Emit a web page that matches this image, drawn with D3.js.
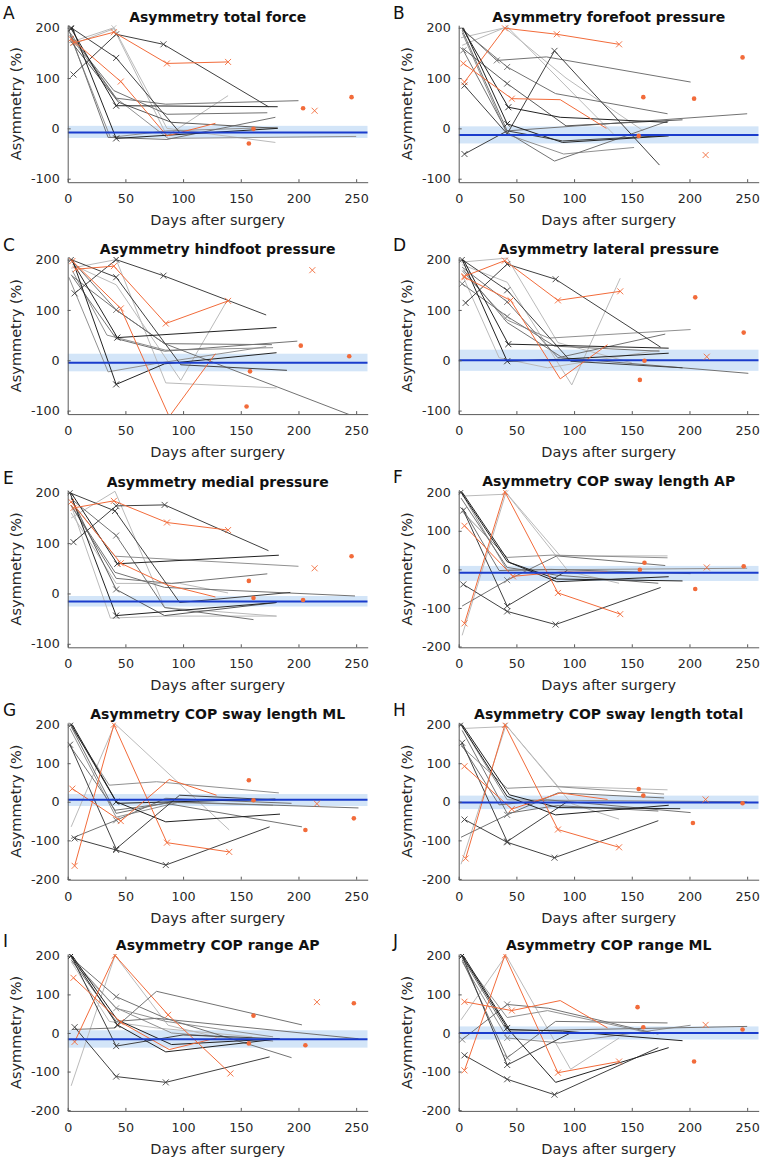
<!DOCTYPE html>
<html><head><meta charset="utf-8">
<script src="https://cdn.jsdelivr.net/npm/d3@7"></script>
<style>body{margin:0;background:#fff}svg{display:block}text{font-family:"DejaVu Sans",sans-serif}</style>
</head><body><svg id="c" width="762" height="1160"></svg>
<script>
// ---------- data ----------
const letters = ["A","B","C","D","E","F","G","H","I","J"];
const titles = ["Asymmetry total force","Asymmetry forefoot pressure","Asymmetry hindfoot pressure","Asymmetry lateral pressure","Asymmetry medial pressure","Asymmetry COP sway length AP","Asymmetry COP sway length ML","Asymmetry COP sway length total","Asymmetry COP range AP","Asymmetry COP range ML"];
const xTicks = [0,50,100,150,200,250];
const yTicksPressure = [-100,0,100,200];
const yTicksCOP = [-200,-100,0,100,200];
const meanVals = [-8,-13,-5,0,-16,-9,5,-2,-16,0];
const bandLow = [-19,-30,-22,-21,-26,-30,-11,-19,-38,-17];
const bandHigh = [5,4,13,21,-5,9,20,16,7,17];

const linesA = [
 {g:'k2',p:[[5,107],[42,187],[83,167],[174,43]],m:[0,1,2]},
 {g:'o',p:[[5,170],[40,191],[86,129],[139,132]],m:[0,1,2,3]},
 {g:'o',p:[[3,178],[46,93],[86,-15],[128,10]],m:[0,1]},
 {g:'k2',p:[[3,200],[42,140],[97,-8]],m:[0,1]},
 {g:'k1',p:[[3,198],[42,45],[182,43]],m:[0,1]},
 {g:'k1',p:[[4,200],[42,-20],[182,0]],m:[1]},
 {g:'g1',p:[[1,195],[35,-18],[86,-22],[180,22]],m:[]},
 {g:'g1',p:[[2,190],[42,60],[85,48],[200,55]],m:[]},
 {g:'g1',p:[[2,185],[40,75],[86,28],[173,31]],m:[]},
 {g:'g3',p:[[1,170],[40,200],[86,0],[180,-28]],m:[1]},
 {g:'g3',p:[[2,165],[40,198],[86,-15],[139,65]],m:[]},
 {g:'g2',p:[[3,180],[42,60],[87,-20],[250,-16]],m:[]},
 {g:'k3',p:[[2,175],[44,52],[90,12],[182,0]],m:[]},
 {g:'g2',p:[[2,185],[37,-18],[86,-5],[182,2]],m:[]}
];
const dotsA = [[157,-30,'d'],[161,-1,'d'],[204,40,'d'],[214,35,'x'],[246,62,'d']];

const linesB = [
 {g:'k2',p:[[5,85],[42,-11],[83,154],[174,-73]],m:[0,2]},
 {g:'o',p:[[5,92],[40,199],[85,187],[139,167]],m:[0,1,2,3]},
 {g:'o',p:[[4,129],[46,59],[88,57],[128,0]],m:[0,1]},
 {g:'k2',p:[[5,-51],[42,-5],[90,-25],[183,-14]],m:[0]},
 {g:'k1',p:[[3,200],[43,42],[88,22],[181,12]],m:[1]},
 {g:'g1',p:[[3,198],[33,135],[76,142],[201,92]],m:[1]},
 {g:'g1',p:[[3,196],[42,122],[84,69],[181,29]],m:[1]},
 {g:'k3',p:[[3,160],[42,89],[93,5],[194,17]],m:[1]},
 {g:'g3',p:[[3,165],[42,202],[134,-11]],m:[1]},
 {g:'k1',p:[[4,200],[42,9],[90,-28],[182,-15]],m:[1]},
 {g:'g1',p:[[4,155],[42,-8],[83,-65],[182,15]],m:[0]},
 {g:'g2',p:[[3,190],[42,-12],[91,-51],[152,-38]],m:[]},
 {g:'g1',p:[[3,195],[42,-5],[250,29]],m:[]},
 {g:'g3',p:[[2,180],[40,200],[93,100],[160,-5]],m:[]}
];
const dotsB = [[156,-15,'d'],[160,62,'d'],[204,59,'d'],[214,-53,'x'],[246,141,'d']];

const linesC = [
 {g:'k2',p:[[6,133],[42,200],[83,168],[172,90]],m:[0,1,2]},
 {g:'o',p:[[7,181],[40,187],[85,73],[139,118]],m:[0,1,2,3]},
 {g:'o',p:[[4,197],[46,103],[88,-112],[128,13]],m:[0,1]},
 {g:'k2',p:[[3,200],[42,165],[98,-9],[190,-20]],m:[0,1]},
 {g:'k1',p:[[4,200],[42,-48],[84,-7],[181,15]],m:[1]},
 {g:'k1',p:[[3,200],[43,45],[181,65]],m:[1]},
 {g:'g1',p:[[4,197],[42,100],[84,33],[177,31]],m:[1]},
 {g:'g1',p:[[3,170],[42,43],[84,18],[199,38]],m:[]},
 {g:'g3',p:[[3,183],[42,200],[85,-45],[181,-55]],m:[1]},
 {g:'g3',p:[[4,190],[42,150],[98,-40],[138,118]],m:[]},
 {g:'g2',p:[[1,165],[35,-23],[75,-7],[172,27]],m:[]},
 {g:'g1',p:[[4,167],[42,100],[84,33],[252,-115]],m:[]},
 {g:'g2',p:[[4,178],[34,50],[85,20],[178,25]],m:[]}
];
const dotsC = [[155,-92,'d'],[158,-22,'d'],[202,29,'d'],[212,179,'x'],[244,8,'d']];

const linesD = [
 {g:'k2',p:[[6,114],[42,191],[84,161],[175,26]],m:[0,1,2]},
 {g:'o',p:[[5,167],[40,198],[86,119],[140,137]],m:[0,1,2,3]},
 {g:'o',p:[[5,165],[45,119],[88,-37],[129,31]],m:[0,1]},
 {g:'k2',p:[[3,200],[42,139],[97,-2],[194,-15]],m:[0,1]},
 {g:'k1',p:[[3,200],[42,-2],[88,2],[182,14]],m:[1]},
 {g:'k1',p:[[4,200],[43,32],[182,24]],m:[1]},
 {g:'g1',p:[[3,152],[42,87],[83,28],[174,18]],m:[0,1]},
 {g:'g1',p:[[3,185],[42,116],[86,5],[179,52]],m:[1]},
 {g:'g3',p:[[3,190],[42,155],[98,-49],[140,163]],m:[]},
 {g:'g3',p:[[3,170],[35,5],[77,-15],[174,20]],m:[]},
 {g:'g2',p:[[3,178],[42,80],[78,44],[201,61]],m:[]},
 {g:'g1',p:[[4,180],[42,75],[90,5],[251,-26]],m:[]},
 {g:'g3',p:[[2,195],[42,203],[86,35],[150,-5]],m:[]}
];
const dotsD = [[157,-39,'d'],[161,-1,'d'],[205,125,'d'],[215,7,'x'],[247,55,'d']];

const linesE = [
 {g:'k2',p:[[5,102],[42,174],[84,176],[174,85]],m:[0,1,2]},
 {g:'o',p:[[5,170],[40,184],[86,141],[139,126]],m:[0,1,2,3]},
 {g:'o',p:[[3,182],[46,60],[86,17],[128,-7]],m:[0,1]},
 {g:'k2',p:[[2,200],[41,164],[97,-18],[193,2]],m:[0,1]},
 {g:'k1',p:[[2,200],[42,-44],[181,-18]],m:[1]},
 {g:'k1',p:[[3,200],[43,59],[183,76]],m:[1]},
 {g:'g1',p:[[3,188],[42,115],[84,-28],[161,-52]],m:[1]},
 {g:'g1',p:[[3,175],[41,42],[84,12],[249,-5]],m:[]},
 {g:'g1',p:[[3,175],[42,30],[90,20],[173,39]],m:[]},
 {g:'g3',p:[[3,150],[41,203],[84,-28],[181,-45]],m:[]},
 {g:'g3',p:[[3,175],[37,-49],[84,-45],[181,-45]],m:[]},
 {g:'g2',p:[[4,180],[41,74],[200,54]],m:[]},
 {g:'g3',p:[[3,160],[42,20],[97,20],[139,1]],m:[]},
 {g:'k3',p:[[3,190],[42,8],[84,-44],[181,-18]],m:[1]}
];
const dotsE = [[157,25,'d'],[161,-9,'d'],[204,-13,'d'],[214,50,'x'],[246,74,'d']];

const linesF = [
 {g:'k2',p:[[4,-39],[42,-109],[84,-143],[175,-47]],m:[0,1,2]},
 {g:'o',p:[[5,-140],[40,201],[86,-61],[140,-116]],m:[0,1,2,3]},
 {g:'o',p:[[5,113],[47,-18],[88,-7],[129,-7]],m:[0,1]},
 {g:'k2',p:[[4,153],[42,-95],[94,-3]],m:[0,1]},
 {g:'k1',p:[[2,200],[42,20],[85,-32],[182,-19]],m:[0]},
 {g:'k1',p:[[3,200],[44,18],[85,-25],[194,-30]],m:[]},
 {g:'g1',p:[[3,-95],[42,-28],[85,35],[179,10]],m:[1]},
 {g:'g3',p:[[3,-171],[41,199],[88,35],[181,35]],m:[1]},
 {g:'g3',p:[[3,190],[42,195],[95,-5],[139,-36]],m:[]},
 {g:'g1',p:[[3,160],[35,-3],[80,0],[201,-11]],m:[]},
 {g:'g2',p:[[3,150],[42,31],[81,37],[181,30]],m:[]},
 {g:'g1',p:[[2,185],[42,5],[85,-15],[173,-36]],m:[]},
 {g:'g2',p:[[3,195],[42,-2],[250,3]],m:[]}
];
const dotsF = [[157,-1,'d'],[161,17,'d'],[205,-51,'d'],[215,5,'x'],[247,8,'d']];

const linesG = [
 {g:'k2',p:[[6,-95],[42,-125],[85,-164],[175,-65]],m:[0,1,2]},
 {g:'o',p:[[6,-166],[40,200],[86,-106],[140,-130]],m:[0,1,2,3]},
 {g:'o',p:[[4,34],[46,-50],[88,58],[129,17]],m:[0,1]},
 {g:'k2',p:[[2,148],[42,-122],[97,17],[180,5]],m:[0,1]},
 {g:'k1',p:[[3,200],[42,0],[85,-52],[184,-32]],m:[0,1]},
 {g:'k1',p:[[4,200],[43,-4],[180,7]],m:[]},
 {g:'g1',p:[[3,-95],[42,-48],[85,9],[194,-4]],m:[1]},
 {g:'g3',p:[[3,-65],[41,202],[140,-73]],m:[]},
 {g:'g2',p:[[3,195],[36,43],[77,52],[183,23]],m:[]},
 {g:'g1',p:[[2,145],[41,-22],[85,-4],[203,-65]],m:[]},
 {g:'g1',p:[[3,195],[42,-30],[90,0],[252,-16]],m:[]},
 {g:'g2',p:[[2,190],[42,-40],[95,-2],[178,-9]],m:[]}
];
const dotsG = [[157,56,'d'],[161,4,'d'],[206,-73,'d'],[216,-5,'x'],[248,-43,'d']];

const linesH = [
 {g:'k2',p:[[5,-46],[42,-105],[83,-145],[173,-49]],m:[0,1,2]},
 {g:'o',p:[[6,-147],[40,199],[86,-72],[139,-118]],m:[0,1,2,3]},
 {g:'o',p:[[5,92],[46,-19],[88,23],[129,6]],m:[0,1]},
 {g:'k2',p:[[3,153],[42,-103],[94,0]],m:[0,1]},
 {g:'k1',p:[[2,200],[42,14],[84,-34],[182,-9]],m:[0]},
 {g:'k1',p:[[3,200],[44,18],[86,-15],[192,-18]],m:[]},
 {g:'g1',p:[[2,-92],[42,-34],[86,23],[178,10]],m:[1]},
 {g:'g3',p:[[2,-162],[41,199],[86,40],[181,31]],m:[1]},
 {g:'g3',p:[[3,190],[42,195],[98,-5],[139,-45]],m:[]},
 {g:'g1',p:[[2,150],[35,-8],[77,5],[201,-28]],m:[]},
 {g:'g2',p:[[2,145],[42,35],[81,40],[178,20]],m:[]},
 {g:'g1',p:[[3,185],[42,-30],[85,-10],[173,-24]],m:[]},
 {g:'g2',p:[[3,195],[42,5],[250,0]],m:[]}
];
const dotsH = [[156,33,'d'],[160,16,'d'],[203,-55,'d'],[214,6,'x'],[246,-4,'d']];

const linesI = [
 {g:'k2',p:[[6,15],[42,-113],[85,-128],[175,-62]],m:[0,1,2]},
 {g:'o',p:[[6,-23],[41,201],[87,47],[141,-105]],m:[0,1,2,3]},
 {g:'o',p:[[5,143],[46,28],[88,-43],[129,-13]],m:[0,1]},
 {g:'k2',p:[[3,200],[42,-34],[100,-5],[182,-15]],m:[0,1]},
 {g:'k1',p:[[3,200],[43,21],[85,-49],[184,-15]],m:[0,1]},
 {g:'k1',p:[[4,200],[43,34],[90,-30],[183,-15]],m:[]},
 {g:'g1',p:[[3,195],[42,94],[85,38],[194,-64]],m:[1]},
 {g:'g1',p:[[4,9],[41,13],[77,108],[203,21]],m:[]},
 {g:'g3',p:[[3,-137],[41,201],[87,20],[132,-13]],m:[1]},
 {g:'g2',p:[[3,195],[42,64],[85,30],[178,-10]],m:[1]},
 {g:'g3',p:[[3,185],[36,30],[77,13],[160,-10]],m:[]},
 {g:'g1',p:[[3,190],[42,30],[77,38],[252,-15]],m:[]},
 {g:'g2',p:[[4,185],[42,65],[90,0],[178,-21]],m:[]}
];
const dotsI = [[157,-27,'d'],[161,45,'d'],[206,-32,'d'],[216,80,'x'],[248,77,'d']];

const linesJ = [
 {g:'k2',p:[[5,-58],[42,-120],[83,-160],[173,-38]],m:[0,1,2]},
 {g:'o',p:[[5,-97],[40,201],[86,-103],[139,-74]],m:[0,1,2,3]},
 {g:'o',p:[[5,81],[46,58],[88,84],[129,13]],m:[0,1]},
 {g:'k2',p:[[3,200],[42,-83],[97,0]],m:[0,1]},
 {g:'k1',p:[[3,200],[42,13],[84,-128],[182,-38]],m:[0,1]},
 {g:'k1',p:[[4,200],[44,9],[90,5],[194,-20]],m:[]},
 {g:'g1',p:[[3,-17],[42,74],[78,64],[173,-3]],m:[0,1]},
 {g:'g3',p:[[2,34],[41,201],[97,-94],[139,-13]],m:[]},
 {g:'g1',p:[[3,190],[42,-64],[84,30],[181,26]],m:[1]},
 {g:'g2',p:[[3,185],[42,-13],[88,-26],[201,20]],m:[1]},
 {g:'g2',p:[[3,195],[42,40],[77,58],[169,-2]],m:[]},
 {g:'g1',p:[[3,195],[42,5],[250,17]],m:[]}
];
const dotsJ = [[155,67,'d'],[160,15,'d'],[204,-74,'d'],[214,21,'x'],[246,9,'d']];

const allLines = [linesA,linesB,linesC,linesD,linesE,linesF,linesG,linesH,linesI,linesJ];
const allDots = [dotsA,dotsB,dotsC,dotsD,dotsE,dotsF,dotsG,dotsH,dotsI,dotsJ];

// ---------- layout & style ----------
const groupColor = {k1:'#222222',k2:'#404040',k3:'#595959',g1:'#727272',g2:'#909090',g3:'#bababa',o:'#f26b3a'};
const colX = [67.7, 458.7];
const rowTop = [25.2, 257.1, 490.3, 722.7, 953.9];
const plotW = 300, plotH = 157;

const svg = d3.select('#c');

letters.forEach((L,i)=>{
  const col = i%2, row = Math.floor(i/2);
  const x0 = colX[col], y0 = rowTop[row];
  const isCOP = i>=5;
  const yDom = isCOP ? [-202,205] : [-107,205];
  const xs = d3.scaleLinear().domain([0,260]).range([0,plotW]);
  const ys = d3.scaleLinear().domain(yDom).range([plotH,0]);
  const g = svg.append('g').attr('transform',`translate(${x0},${y0})`);
  const cid = 'clip'+i;
  g.append('clipPath').attr('id',cid).append('rect').attr('x',0).attr('y',0).attr('width',plotW).attr('height',plotH);
  const pg = g.append('g').attr('clip-path',`url(#${cid})`);

  pg.append('rect').attr('x',xs(0)).attr('width',xs(260)-xs(0))
    .attr('y',ys(bandHigh[i])).attr('height',ys(bandLow[i])-ys(bandHigh[i]))
    .attr('fill','#d3e5f8');

  const line = d3.line().x(d=>xs(d[0])).y(d=>ys(d[1]));
  const order = ['g3','g2','g1','k3','k2','k1','o'];
  const ls = allLines[i].slice().sort((a,b)=>order.indexOf(a.g)-order.indexOf(b.g));
  ls.forEach(s=>{
    const c = groupColor[s.g];
    pg.append('path').attr('d',line(s.p)).attr('fill','none').attr('stroke',c).attr('stroke-width',1);
    s.m.forEach(k=>{
      const [dx,dy] = s.p[k];
      const cx = xs(dx), cy = ys(dy), r = 3;
      pg.append('path').attr('d',`M${cx-r},${cy-r}L${cx+r},${cy+r}M${cx-r},${cy+r}L${cx+r},${cy-r}`)
        .attr('stroke',c).attr('stroke-width',0.9).attr('fill','none');
    });
  });

  pg.append('line').attr('x1',xs(0)).attr('x2',xs(260)).attr('y1',ys(meanVals[i])).attr('y2',ys(meanVals[i]))
    .attr('stroke','#1a3ccc').attr('stroke-width',2);

  allDots[i].forEach(d=>{
    const cx = xs(d[0]), cy = ys(d[1]);
    if(d[2]==='d'){
      pg.append('circle').attr('cx',cx).attr('cy',cy).attr('r',2.3).attr('fill',groupColor.o);
    } else {
      const r=3;
      pg.append('path').attr('d',`M${cx-r},${cy-r}L${cx+r},${cy+r}M${cx-r},${cy+r}L${cx+r},${cy-r}`)
        .attr('stroke',groupColor.o).attr('stroke-width',0.9).attr('fill','none');
    }
  });

  const yTicks = isCOP ? yTicksCOP : yTicksPressure;
  const fmt = d=>String(d);
  const ax = g.append('g').attr('transform',`translate(0,${plotH})`)
    .call(d3.axisBottom(xs).tickValues(xTicks).tickFormat(fmt).tickSizeInner(-3).tickSizeOuter(0).tickPadding(9));
  const ay = g.append('g')
    .call(d3.axisLeft(ys).tickValues(yTicks).tickFormat(fmt).tickSizeInner(-3).tickSizeOuter(0).tickPadding(8));
  [ax,ay].forEach(a=>{
    a.select('.domain').attr('stroke','#5a5a5a');
    a.selectAll('.tick line').attr('stroke','#5a5a5a');
    a.selectAll('text').attr('fill','#262626').style('font-size','12.7px').style('font-family','"DejaVu Sans",sans-serif');
  });
  ax.selectAll('text').attr('dy','0.95em');

  g.append('text').attr('x',plotW/2).attr('y',plotH+43).attr('text-anchor','middle')
    .style('font-size','14.5px').attr('fill','#262626').text('Days after surgery');
  g.append('text').attr('transform',`translate(-47,${plotH/2}) rotate(-90)`).attr('text-anchor','middle')
    .style('font-size','14.5px').attr('fill','#262626').text('Asymmetry (%)');
  g.append('text').attr('x',plotW/2).attr('y',ys(200)-6).attr('text-anchor','middle')
    .style('font-size','14px').style('font-weight','bold').attr('fill','#111').text(titles[i]);
  svg.append('text').attr('x',col===0?3:393).attr('y',y0+ys(200)-9)
    .style('font-size','17px').attr('fill','#111').text(L);
});
</script></body></html>
